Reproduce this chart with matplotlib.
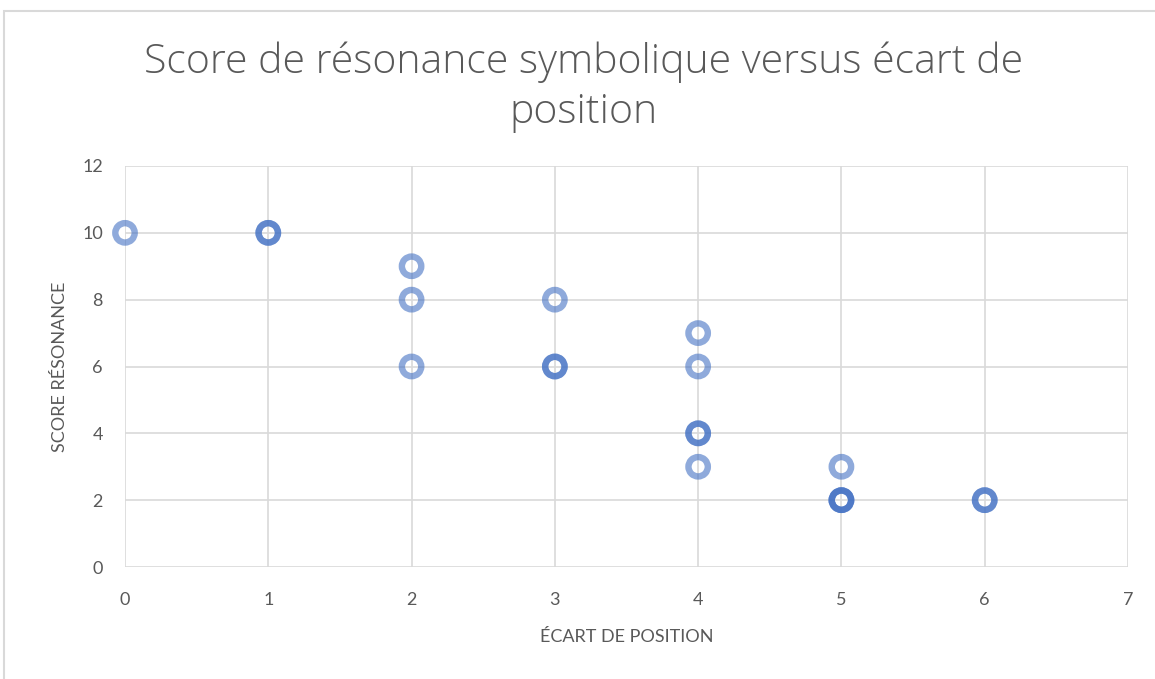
import matplotlib.pyplot as plt
from matplotlib.patches import Rectangle

# position gap vs. symbolic resonance score (repeated pairs overlap)
ecart = [0, 1, 1, 2, 2, 2, 3, 3, 3, 4, 4, 4, 4, 4, 5, 5, 5, 5, 6, 6]
score = [10, 10, 10, 9, 8, 6, 8, 6, 6, 7, 6, 4, 4, 3, 3, 2, 2, 2, 2, 2]

x_ticks = [0, 1, 2, 3, 4, 5, 6, 7]
y_ticks = [0, 2, 4, 6, 8, 10, 12]

title = "Score de résonance symbolique versus écart de\nposition"
x_label = "ÉCART DE POSITION"
y_label = "SCORE RÉSONANCE"

text_col = "#595959"
grid_col = "#d9d9d9"
blue = "#4472c4"

plt.rcParams['font.family'] = ['Lato', 'DejaVu Sans']

fig = plt.figure(figsize=(11.55, 6.79), dpi=100)
fig.patches.append(Rectangle((4 / 1155, -0.1), 1.2, 1 - 11 / 679 + 0.1,
                             transform=fig.transFigure, fill=False,
                             edgecolor=grid_col, linewidth=1.5))

ax = fig.add_axes([125 / 1155, 1 - 567 / 679, (1128 - 125) / 1155, (567 - 166) / 679])
ax.scatter(ecart, score, s=195, facecolors='none', edgecolors=blue,
           linewidths=4.6, alpha=0.6, zorder=3, clip_on=False)

ax.set_xlim(0, 7)
ax.set_ylim(0, 12)
ax.set_xticks(x_ticks)
ax.set_yticks(y_ticks)
ax.grid(True, color=grid_col, linewidth=1.2)
ax.set_axisbelow(True)
for s in ax.spines.values():
    s.set_visible(False)
ax.tick_params(length=0, colors=text_col, labelsize=13)
ax.tick_params(axis='x', pad=18)
ax.tick_params(axis='y', pad=16)

ax.set_xlabel(x_label, color=text_col, fontsize=13, labelpad=15)
ax.set_ylabel(y_label, color=text_col, fontsize=13, labelpad=10)
fig.text(0.505, 1 - 87 / 679, title, ha='center', va='center', color=text_col,
         fontsize=29.5, linespacing=1.3, family=['Open Sans', 'DejaVu Sans'],
         fontweight='light')

fig.savefig("out.png", dpi=100)
